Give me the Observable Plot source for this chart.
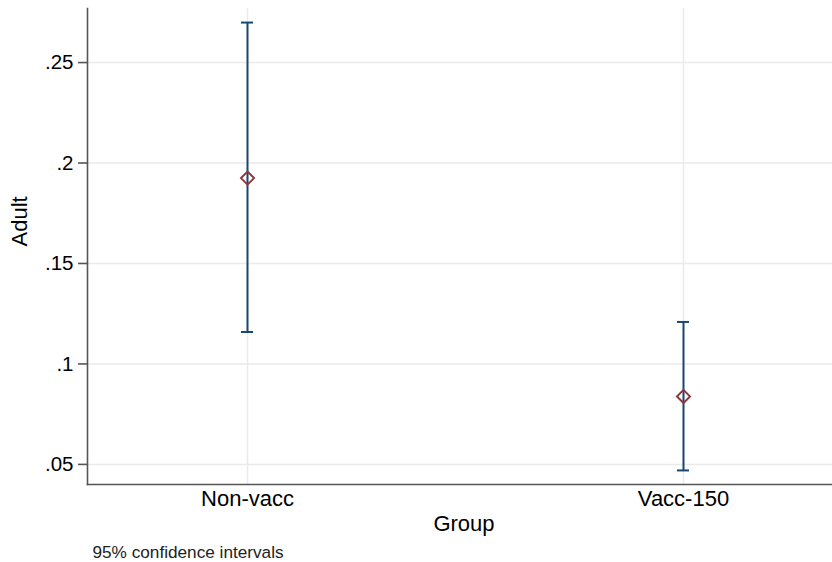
<!DOCTYPE html>
<html>
<head>
<meta charset="utf-8">
<script src="https://cdn.jsdelivr.net/npm/d3@7"></script>
<script src="https://cdn.jsdelivr.net/npm/@observablehq/plot@0.6"></script>
<style>
  html, body { margin: 0; padding: 0; background: #fff; }
  #chart svg { display: block; }
</style>
</head>
<body>
<div id="chart"></div>
<script>
const groups = ["Non-vacc", "Vacc-150"];
const means = [0.1925, 0.0838];
const lower = [0.1159, 0.0470];
const upper = [0.2699, 0.1209];
const yTicks = [0.05, 0.1, 0.15, 0.2, 0.25];
const yDomain = [0.0400, 0.2769];

const data = groups.map((g, i) => ({group: g, mean: means[i], lo: lower[i], hi: upper[i]}));

const font = "Helvetica, 'Liberation Sans', Arial, sans-serif";
const navy = "#1a476f";
const maroon = "#90353b";
const grid = "#eaeaea";
const axisColor = "#555555";

const plot = Plot.plot({
  width: 832,
  height: 562,
  marginLeft: 87,
  marginRight: 0,
  marginTop: 8,
  marginBottom: 78,
  style: {fontFamily: font, background: "#fff", color: "#000"},
  x: {type: "point", domain: groups, padding: 0.354, align: 0.518},
  y: {domain: yDomain},
  marks: [
    Plot.gridY(yTicks, {stroke: grid, strokeOpacity: 1, strokeWidth: 1.5}),
    Plot.gridX(groups, {stroke: grid, strokeOpacity: 1, strokeWidth: 1.5}),
    Plot.frame({anchor: "left", stroke: axisColor, strokeWidth: 1.6}),
    Plot.frame({anchor: "bottom", stroke: axisColor, strokeWidth: 1.6}),
    Plot.axisY({ticks: yTicks, tickFormat: d => String(d).replace(/^0/, ""), tickSize: 9, tickPadding: 5,
      fontSize: 20.5, stroke: axisColor, strokeWidth: 1.6, label: null, fill: "#000"}),
    Plot.axisX({tickSize: 0, tickPadding: 6, fontSize: 22, label: null, fill: "#000"}),
    Plot.ruleX(data, {x: "group", y1: "lo", y2: "hi", stroke: navy, strokeWidth: 2}),
    Plot.ruleY(data, {x1: "group", x2: "group", y: "hi", stroke: navy, strokeWidth: 2, insetLeft: -6, insetRight: -6}),
    Plot.ruleY(data, {x1: "group", x2: "group", y: "lo", stroke: navy, strokeWidth: 2, insetLeft: -6, insetRight: -6}),
    Plot.dot(data, {x: "group", y: "mean", symbol: "diamond2", r: 5.9, stroke: maroon, strokeWidth: 1.9, fill: "none"}),
    Plot.text(["Adult"], {frameAnchor: "left", rotate: -90, dx: -67.5, fontSize: 22, fill: "#000"}),
    Plot.text(["Group"], {frameAnchor: "bottom", dx: 4, dy: 46, fontSize: 22, fill: "#000"}),
    Plot.text(["95% confidence intervals"], {frameAnchor: "bottom-left", textAnchor: "start", dx: 5, dy: 73, fontSize: 17.2, fill: "#222"})
  ]
});
document.getElementById("chart").appendChild(plot);
</script>
</body>
</html>
